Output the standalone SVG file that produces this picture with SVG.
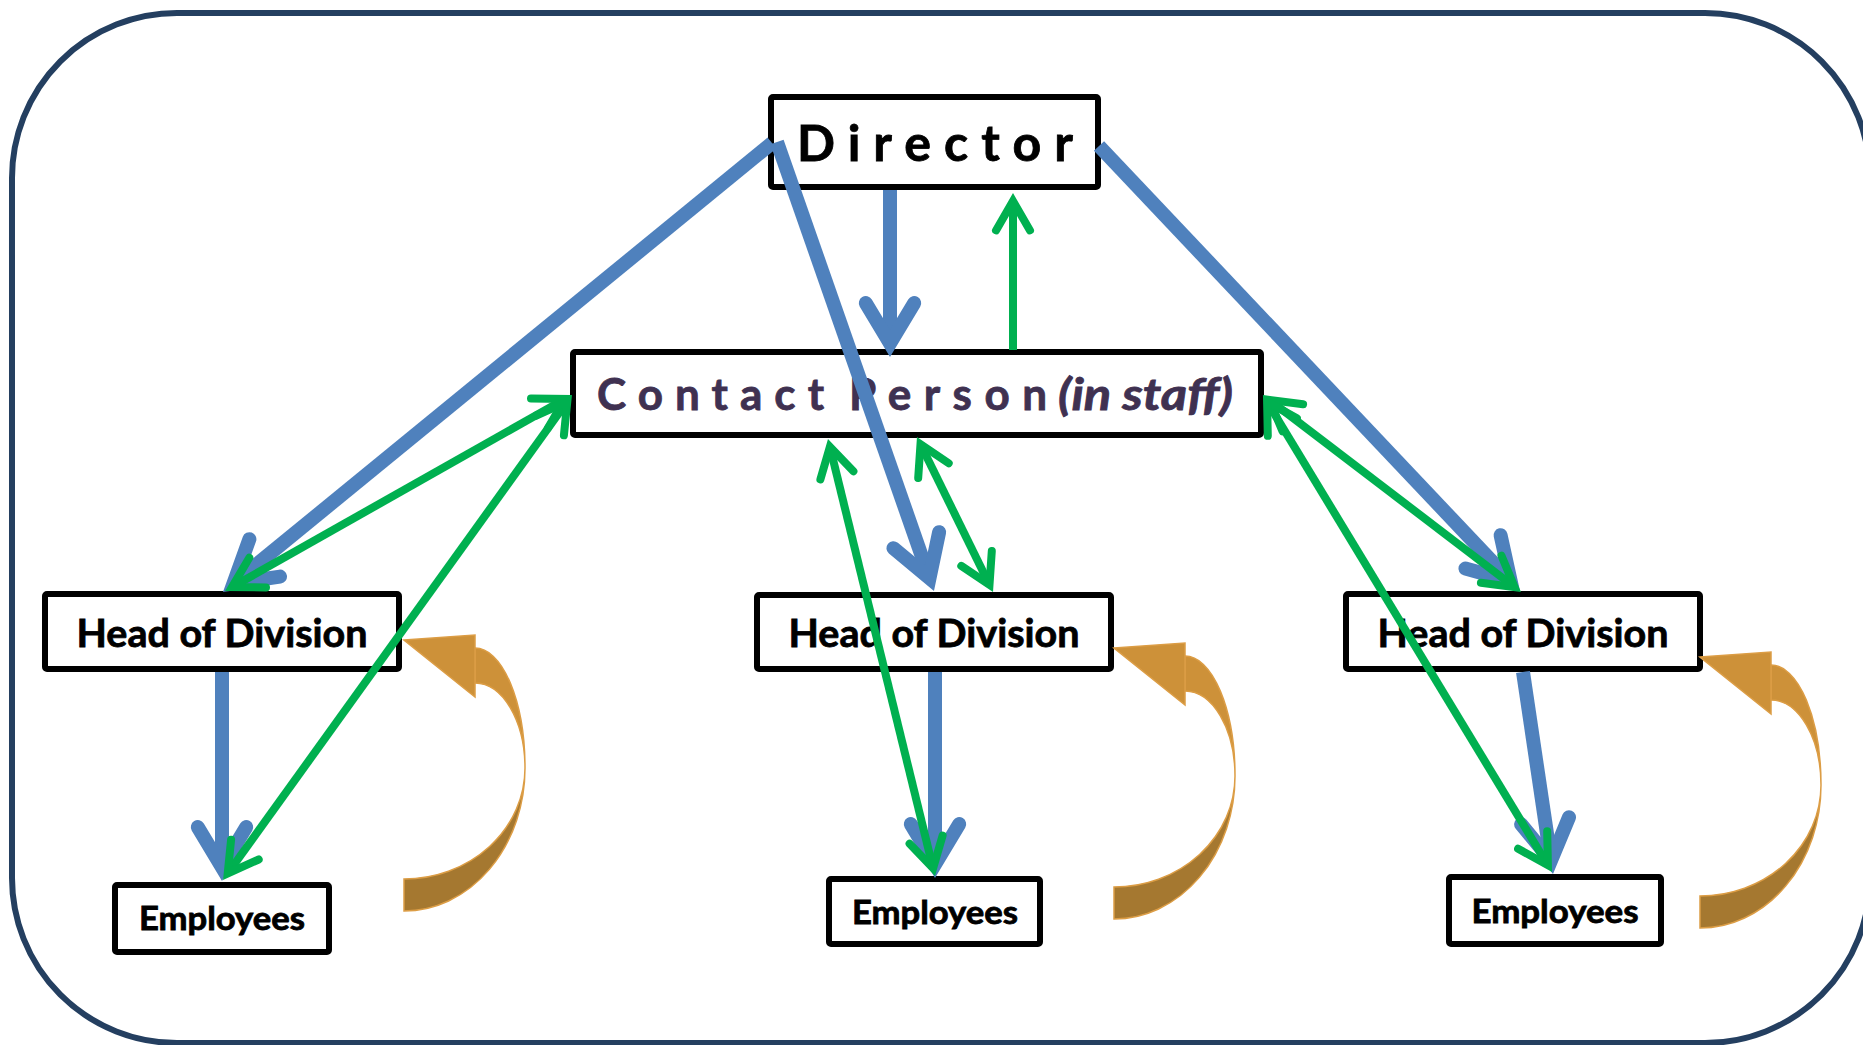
<svg xmlns="http://www.w3.org/2000/svg" xmlns:xlink="http://www.w3.org/1999/xlink" width="1863" height="1045" viewBox="0 0 1863 1045">
  <style>
    .box { fill: #ffffff; stroke: #000000; stroke-width: 6; }
    .lbl { font-family: Lato, "Liberation Sans", sans-serif; font-weight: 700; fill: #000000; stroke: #000000; stroke-width: 0.8; }
    .hod { font-size: 39px; }
    .emp { font-size: 32px; }
    .contact { font-size: 44px; fill: #3f3151; stroke: #3f3151; }
    .bshaft { fill: none; stroke: #4f81bd; stroke-width: 14; stroke-linecap: butt; }
    .bhead { fill: none; stroke: #4f81bd; stroke-width: 14; stroke-linecap: round; stroke-linejoin: miter; }
    .gshaft { fill: none; stroke: #00b050; stroke-width: 8; stroke-linecap: butt; }
    .ghead { fill: none; stroke: #00b050; stroke-width: 8; stroke-linecap: round; stroke-linejoin: miter; }
    .front { fill: #cd9139; stroke: #dc9d45; stroke-width: 1.5; }
    .back { fill: #a57830; stroke: #dc9d45; stroke-width: 1.5; }
  </style>
  <defs>
    <!-- curved feedback arrow, origin at the arrow tip -->
    <g id="curl">
      <path class="back" d="M121,128 A121,143 0 0 1 0,271 L0,239 A121,111 0 0 0 121,128 Z"/>
      <path class="front" d="M71,8 A50,120 0 0 1 121,128 A50,85 0 0 0 71,43 Z"/>
      <path class="front" d="M0,0 L71,-5 L71,57 Z"/>
    </g>
  </defs>

  <rect width="1863" height="1045" fill="#ffffff"/>
  <rect x="12" y="13" width="1858" height="1030" rx="165" ry="165" fill="none" stroke="#243f60" stroke-width="6"/>

  <g id="director">
    <rect class="box" x="771" y="97" width="327" height="90" rx="2"/>
    <text class="lbl" x="797" y="161" font-size="50" textLength="276" lengthAdjust="spacing">Director</text>
  </g>

  <g id="contact-person">
    <rect class="box" x="573" y="352" width="688" height="83" rx="2"/>
    <text class="lbl contact" y="410"><tspan x="597" textLength="227" lengthAdjust="spacing">Contact</tspan><tspan x="849" textLength="198" lengthAdjust="spacing">Person</tspan><tspan x="1058" font-style="italic" textLength="175" lengthAdjust="spacingAndGlyphs">(in staff)</tspan></text>
  </g>

  <g id="head-left">
    <rect class="box" x="45" y="594" width="354" height="75" rx="2"/>
    <text class="lbl hod" x="222" y="647" text-anchor="middle" textLength="291" lengthAdjust="spacingAndGlyphs">Head of Division</text>
  </g>
  <g id="head-middle">
    <rect class="box" x="757" y="595" width="354" height="74" rx="2"/>
    <text class="lbl hod" x="934" y="647" text-anchor="middle" textLength="291" lengthAdjust="spacingAndGlyphs">Head of Division</text>
  </g>
  <g id="head-right">
    <rect class="box" x="1346" y="594" width="354" height="75" rx="2"/>
    <text class="lbl hod" x="1523" y="647" text-anchor="middle" textLength="291" lengthAdjust="spacingAndGlyphs">Head of Division</text>
  </g>

  <g id="employees-left">
    <rect class="box" x="115" y="885" width="214" height="67" rx="2"/>
    <text class="lbl emp" x="222" y="930" text-anchor="middle" textLength="166" lengthAdjust="spacingAndGlyphs">Employees</text>
  </g>
  <g id="employees-middle">
    <rect class="box" x="829" y="879" width="211" height="65" rx="2"/>
    <text class="lbl emp" x="935" y="924" text-anchor="middle" textLength="166" lengthAdjust="spacingAndGlyphs">Employees</text>
  </g>
  <g id="employees-right">
    <rect class="box" x="1449" y="877" width="212" height="67" rx="2"/>
    <text class="lbl emp" x="1555" y="923" text-anchor="middle" textLength="167" lengthAdjust="spacingAndGlyphs">Employees</text>
  </g>

  <g id="feedback-loops">
    <use xlink:href="#curl" x="404" y="640"/>
    <use xlink:href="#curl" x="1114" y="648"/>
    <use xlink:href="#curl" x="1700" y="657"/>
  </g>

  <g id="connectors">
    <!-- reporting lines (blue) -->
    <path class="bshaft" d="M890,190 L890,343.4"/>
    <path class="bhead" d="M865.8,303.1 L890,343.4 L914.2,303.1"/>
    <path class="bshaft" d="M772,143 L233.5,583.4"/>
    <path class="bhead" d="M249.4,539.2 L233.5,583.4 L280,576.6"/>
    <path class="bshaft" d="M777,142 L929.5,578.2"/>
    <path class="bhead" d="M893.4,548.2 L929.5,578.2 L939.1,532.2"/>
    <path class="bshaft" d="M1099,146 L1510.7,581.1"/>
    <path class="bhead" d="M1465.4,568.5 L1510.7,581.1 L1500.6,535.2"/>
    <path class="bshaft" d="M222,672 L222,867.4"/>
    <path class="bhead" d="M197.8,827.1 L222,867.4 L246.2,827.1"/>
    <path class="bshaft" d="M935,672 L935,864.4"/>
    <path class="bhead" d="M910.8,824.1 L935,864.4 L959.2,824.1"/>
    <path class="bshaft" d="M1523,672 L1551,860.6"/>
    <path class="bhead" d="M1521.1,824.3 L1551,860.6 L1569,817.2"/>

    <!-- contact lines (green) -->
    <path class="gshaft" d="M1013,350 L1013,201"/>
    <path class="ghead" d="M996,230.4 L1013,201 L1030,230.4"/>
    <path class="gshaft" d="M232,587.1 L565,398.9"/>
    <path class="ghead" d="M266,587.4 L232,587.1 L249.3,557.8"/>
    <path class="ghead" d="M531,398.6 L565,398.9 L547.8,428.2"/>
    <path class="gshaft" d="M227.7,873.5 L567.3,401.5"/>
    <path class="ghead" d="M258.7,859.5 L227.7,873.5 L231.1,839.7"/>
    <path class="ghead" d="M536.3,415.5 L567.3,401.5 L563.9,435.3"/>
    <path class="gshaft" d="M829.9,446.8 L933.1,868.2"/>
    <path class="ghead" d="M820.4,479.4 L829.9,446.8 L853.4,471.3"/>
    <path class="ghead" d="M942.6,835.6 L933.1,868.2 L909.6,843.7"/>
    <path class="gshaft" d="M920.5,444.2 L989.5,584.8"/>
    <path class="ghead" d="M918.2,478.1 L920.5,444.2 L948.7,463.2"/>
    <path class="ghead" d="M991.8,550.9 L989.5,584.8 L961.3,565.9"/>
    <path class="gshaft" d="M1269.4,399.9 L1514.6,587.1"/>
    <path class="ghead" d="M1282.5,431.3 L1269.4,399.9 L1303.1,404.3"/>
    <path class="ghead" d="M1501.5,555.7 L1514.6,587.1 L1480.9,582.7"/>
    <path class="gshaft" d="M1267.1,401.8 L1547.9,865.2"/>
    <path class="ghead" d="M1267.8,435.8 L1267.1,401.8 L1296.9,418.2"/>
    <path class="ghead" d="M1547.2,831.2 L1547.9,865.2 L1518.1,848.8"/>
  </g>
</svg>
